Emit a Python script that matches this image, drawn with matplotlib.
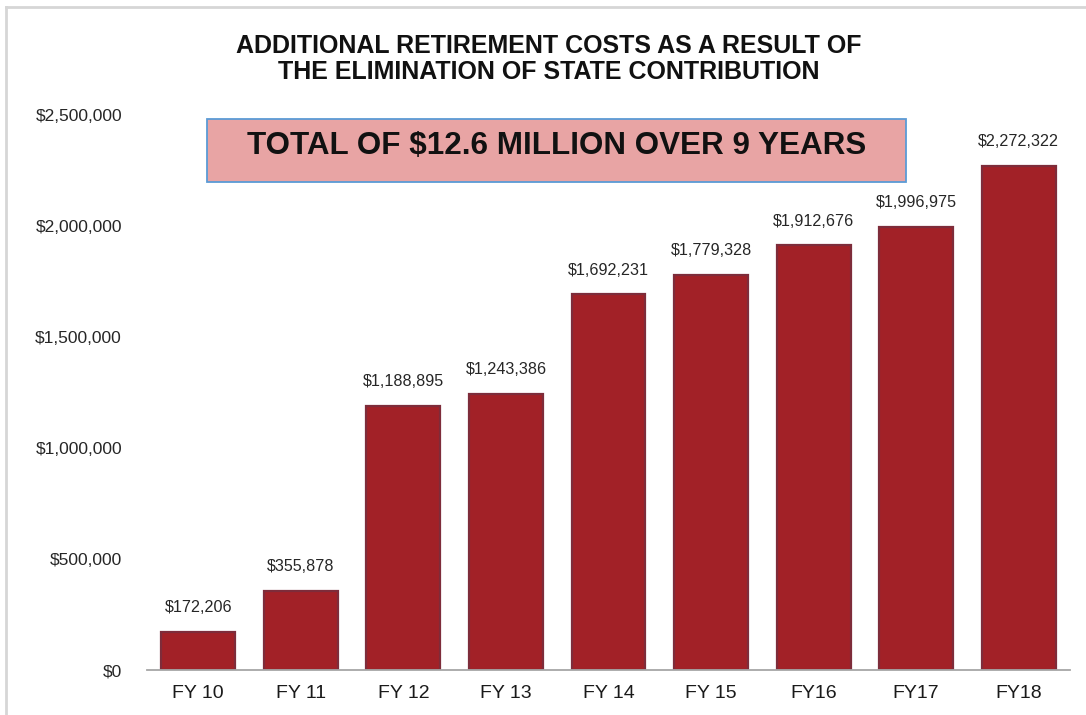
import matplotlib
matplotlib.use("Agg")
import matplotlib.pyplot as plt
from matplotlib.patches import Rectangle
from matplotlib.lines import Line2D
from matplotlib.ticker import FuncFormatter

# Chart data
years = ["FY 10", "FY 11", "FY 12", "FY 13", "FY 14", "FY 15", "FY16", "FY17", "FY18"]
costs = [172206, 355878, 1188895, 1243386, 1692231, 1779328, 1912676, 1996975, 2272322]
y_ticks = [0, 500000, 1000000, 1500000, 2000000, 2500000]

title_text = "ADDITIONAL RETIREMENT COSTS AS A RESULT OF\nTHE ELIMINATION OF STATE CONTRIBUTION"
banner_text = "TOTAL OF $12.6 MILLION OVER 9 YEARS"

W, H = 1086, 715
fig = plt.figure(figsize=(W / 100, H / 100), dpi=100)
fig.patch.set_facecolor("white")

def px(x, y):
    return x / W, 1 - y / H

# plotting area
x0, y_top = px(147, 115)
x1, y_bot = px(1070, 670)
ax = fig.add_axes([x0, y_bot, x1 - x0, y_top - y_bot])

positions = range(len(years))
ax.bar(positions, costs, width=0.72, color="#A22127", edgecolor="#7E2C3A",
       linewidth=1.6, zorder=2)

for i, v in zip(positions, costs):
    ax.annotate(f"${v:,.0f}", (i, v), xytext=(0, 12), textcoords="offset points",
                ha="center", va="bottom", fontsize=11.6, color="#262626",
                family="Liberation Sans", annotation_clip=False)

ax.set_xlim(-0.5, len(years) - 0.5)
ax.set_ylim(0, 2500000)
ax.set_yticks(y_ticks)
ax.yaxis.set_major_formatter(FuncFormatter(lambda v, _: f"${v:,.0f}"))
ax.set_xticks(list(positions))
ax.set_xticklabels(years)
ax.tick_params(axis="y", length=0, pad=18, labelsize=12.5, labelcolor="#262626")
ax.tick_params(axis="x", length=0, pad=11, labelsize=14, labelcolor="#1a1a1a")
for lab in ax.get_xticklabels() + ax.get_yticklabels():
    lab.set_family("Liberation Sans")

for side in ["top", "right", "left"]:
    ax.spines[side].set_visible(False)
ax.spines["bottom"].set_color("#A6A6A6")
ax.spines["bottom"].set_linewidth(1.3)
ax.set_facecolor("none")

# title
tx, ty = px(549, 59)
fig.text(tx, ty, title_text, ha="center", va="center", fontsize=18,
         fontweight="bold", family="Liberation Sans", color="#111111",
         linespacing=1.12)

# banner box
bx0, by1 = px(207, 119)
bx1, by0 = px(906, 182)
fig.patches.append(Rectangle((bx0, by0), bx1 - bx0, by1 - by0, transform=fig.transFigure,
                             facecolor="#E8A4A4", edgecolor="#5B9BD5", linewidth=1.3))
cx, cy = px(557, 146)
fig.text(cx, cy, banner_text, ha="center", va="center", fontsize=22.6,
         fontweight="bold", family="Liberation Sans", color="#111111")

# frame lines
fig.add_artist(Line2D([6 / W, 1], [1 - 7 / H] * 2, transform=fig.transFigure,
                      color="#D6D6D6", linewidth=2))
fig.add_artist(Line2D([6 / W] * 2, [0, 1 - 7 / H], transform=fig.transFigure,
                      color="#D6D6D6", linewidth=2))

fig.savefig("out.png", dpi=100)
